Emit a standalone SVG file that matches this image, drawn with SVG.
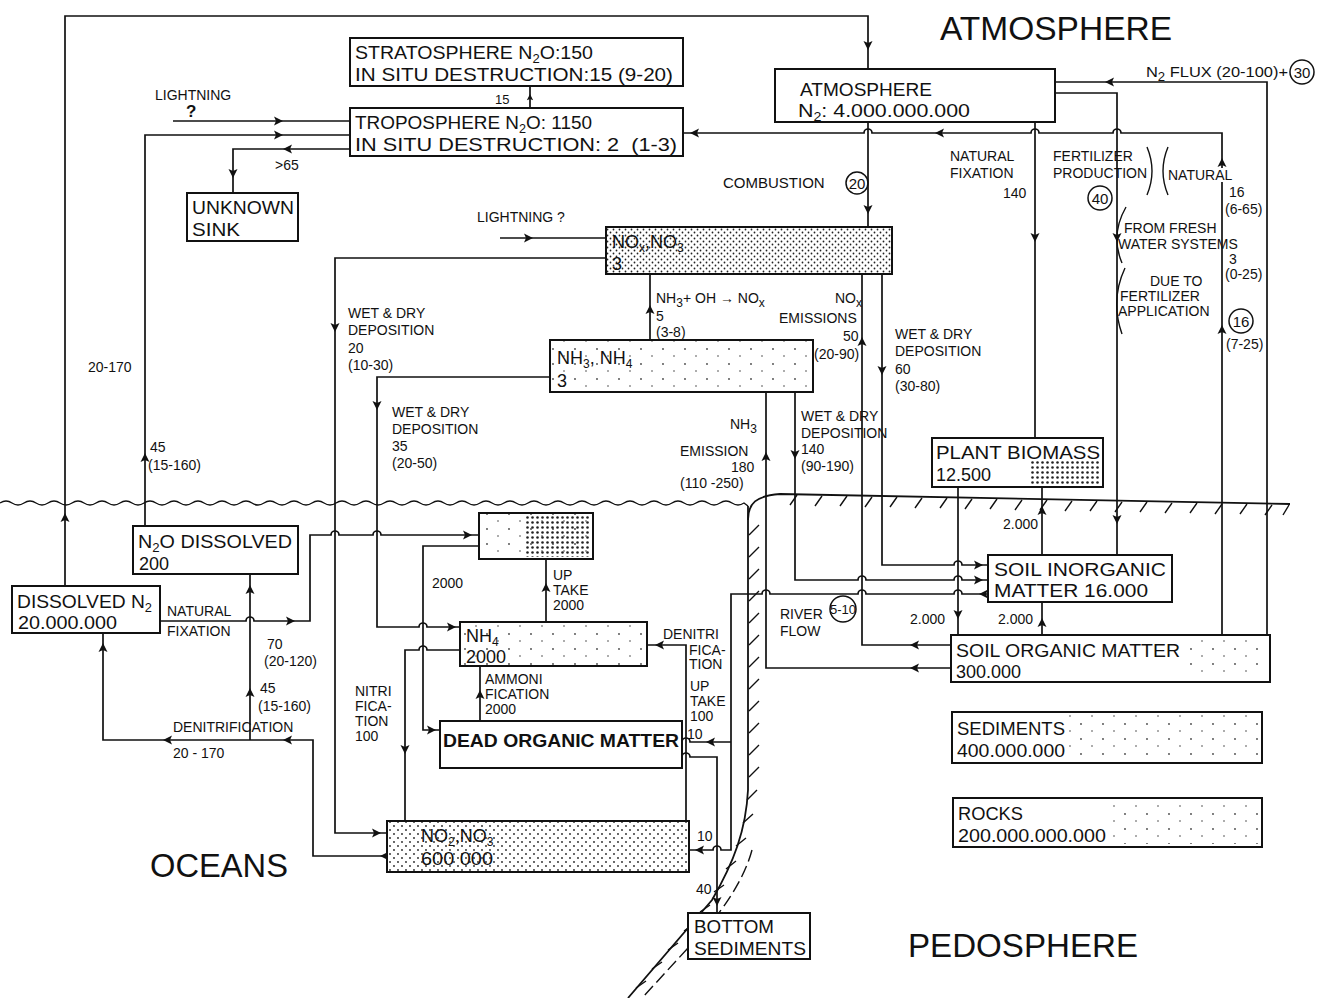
<svg xmlns="http://www.w3.org/2000/svg" xmlns:xlink="http://www.w3.org/1999/xlink" width="1329" height="998" viewBox="0 0 1329 998">
<style>
.box{fill:#fff;stroke:#111;stroke-width:2}
.c{fill:none;stroke:#111;stroke-width:1.7}
.ln{fill:none;stroke:#111;stroke-width:1.8}
.h{fill:none;stroke:#111;stroke-width:1.4}
.t{font-family:"Liberation Sans",Arial,sans-serif;fill:#111}
.bx{font-size:18px}
.lb{font-size:14px}
.ttl{font-size:34px}
.sub{font-size:12px}
.circ{fill:none;stroke:#111;stroke-width:1.5}
.ah{fill:#111}
</style>
<defs>
<pattern id="dDense" width="6" height="6" patternUnits="userSpaceOnUse"><circle cx="1.5" cy="1.5" r="0.9" fill="#222"/><circle cx="4.5" cy="4.5" r="0.9" fill="#222"/></pattern>
<pattern id="dMed" width="8" height="8" patternUnits="userSpaceOnUse"><circle cx="2" cy="2" r="0.9" fill="#222"/><circle cx="6" cy="6" r="0.9" fill="#222"/></pattern>
<pattern id="dHeavy" width="5" height="5" patternUnits="userSpaceOnUse"><circle cx="2.5" cy="2.5" r="1.3" fill="#222"/></pattern>
<pattern id="dSparse" width="22" height="15" patternUnits="userSpaceOnUse"><circle cx="3" cy="4" r="0.9" fill="#444"/><circle cx="14" cy="11" r="0.8" fill="#444"/></pattern>
<path id="ah" class="ah" d="M0,0 L-9,-4.5 L-7,0 L-9,4.5 Z"/>
</defs>
<rect width="1329" height="998" fill="#fff"/>

<!-- land / water -->
<g id="landscape">
<path class="h" d="M0,503 q6,-4 12,0 t12,0 t12,0 t12,0 t12,0 t12,0 t12,0 t12,0 t12,0 t12,0 t12,0 t12,0 t12,0 t12,0 t12,0 t12,0 t12,0 t12,0 t12,0 t12,0 t12,0 t12,0 t12,0 t12,0 t12,0 t12,0 t12,0 t12,0 t12,0 t12,0 t12,0 t12,0 t12,0 t12,0 t12,0 t12,0 t12,0 t12,0 t12,0 t12,0 t12,0 t12,0 t12,0 t12,0 t12,0 t12,0 t12,0 t12,0 t12,0 t12,0 t12,0 t12,0 t12,0 t12,0 t12,0 t12,0 t12,0 t12,0 t12,0 t12,0 t12,0 t12,0 L748,506"/>
<path class="ln" d="M748,520 C748,503 756,496 780,494 L1290,504"/>
<path class="ln" d="M748,506 L748,790 C746,830 734,862 712,900 L628,998"/>
<path class="h" stroke-dasharray="12 5" d="M752,850 C744,880 722,912 700,935 L642,998"/>
<path class="h" d="M790,505 l7,-10 M815,506 l7,-10 M840,506 l7,-10 M865,507 l7,-10 M890,507 l7,-10 M915,508 l7,-10 M940,508 l7,-10 M965,509 l7,-10 M990,509 l7,-10 M1015,510 l7,-10 M1040,510 l7,-10 M1065,511 l7,-10 M1090,511 l7,-10 M1115,512 l7,-10 M1140,512 l7,-10 M1165,513 l7,-10 M1190,513 l7,-10 M1215,514 l7,-10 M1240,514 l7,-10 M1265,515 l7,-10 M1283,515 l6,-10"/>
<path class="h" d="M749,535 l10,-10 M749,557 l10,-10 M749,579 l10,-10 M749,601 l10,-10 M749,623 l10,-10 M749,645 l10,-10 M749,667 l10,-10 M749,689 l10,-10 M749,711 l10,-10 M749,733 l10,-10 M749,755 l10,-10 M749,777 l10,-10 M747,800 l10,-10 M743,823 l10,-9 M736,846 l10,-8 M726,869 l10,-8 M714,892 l10,-7 M700,912 l10,-7 M684,931 l10,-7 M668,950 l10,-7 M652,969 l10,-7 M636,988 l10,-7"/>
</g>

<!-- connectors -->
<g id="connectors">
<path class="c" d="M65,586 L65,16 L868,16 L868,69"/>
<path class="c" d="M173,121 L350,121"/>
<path class="c" d="M145,526 L145,135 L350,135"/>
<path class="c" d="M350,149 L233,149 L233,193"/>
<path class="c" d="M530,108 L530,86"/>
<path class="c" d="M1222,635 L1222,133 L1121,133 A4,4 0 0 0 1113,133 L1039,133 A4,4 0 0 0 1031,133 L872,133 A4,4 0 0 0 864,133 L683,133"/>
<path class="c" d="M868,122 L868,227"/>
<path class="c" d="M1035,122 L1035,438"/>
<path class="c" d="M1055,93 L1117,93 L1117,555"/>
<path class="c" d="M1267,635 L1267,82 L1055,82"/>
<path class="c" d="M500,238 L606,238"/>
<path class="c" d="M606,258 L335,258 L335,833 L387,833"/>
<path class="c" d="M650,340 L650,274"/>
<path class="c" d="M951,645 L862,645 L862,274"/>
<path class="c" d="M882,274 L882,565 L954,565 A4,4 0 0 1 962,565 L988,565"/>
<path class="c" d="M550,377 L377,377 L377,627 L419,627 A4,4 0 0 1 427,627 L460,627"/>
<path class="c" d="M951,668 L766,668 L766,392"/>
<path class="c" d="M795,392 L795,580 L858,580 A4,4 0 0 1 866,580 L954,580 A4,4 0 0 1 962,580 L988,580"/>
<path class="c" d="M988,594 L962,594 A4,4 0 0 0 954,594 L866,594 A4,4 0 0 0 858,594 L770,594 A4,4 0 0 0 762,594 L731,594 L731,850 L721,850 A4,4 0 0 0 713,850 L689,850"/>
<path class="c" d="M731,742 L690,742 A4,4 0 0 0 682,742"/>
<path class="c" d="M682,757 A4,4 0 0 1 690,757 L717,757 L717,913"/>
<path class="c" d="M686,821 L686,645 L647,645"/>
<path class="c" d="M958,487 L958,635"/>
<path class="c" d="M1042,635 L1042,602"/>
<path class="c" d="M1042,555 L1042,487"/>
<path class="c" d="M160,621 L246,621 A4,4 0 0 1 254,621 L310,621 L310,535 L331,535 A4,4 0 0 1 339,535 L373,535 A4,4 0 0 1 381,535 L479,535"/>
<path class="c" d="M250,740 L250,574"/>
<path class="c" d="M387,856 L313,856 L313,740 L103,740 L103,633"/>
<path class="c" d="M479,546 L423,546 L423,730 L440,730"/>
<path class="c" d="M546,622 L546,559"/>
<path class="c" d="M480,721 L480,666"/>
<path class="c" d="M460,650 L427,650 A4,4 0 0 0 419,650 L405,650 L405,821"/>
<!-- arrowheads -->
<use href="#ah" transform="translate(65,513) rotate(-90)"/>
<use href="#ah" transform="translate(868,50) rotate(90)"/>
<use href="#ah" transform="translate(283,121)"/>
<use href="#ah" transform="translate(145,453) rotate(-90)"/>
<use href="#ah" transform="translate(283,135)"/>
<use href="#ah" transform="translate(283,149) rotate(180)"/>
<use href="#ah" transform="translate(233,178) rotate(90)"/>
<use href="#ah" transform="translate(530,94) rotate(-90) scale(0.7)"/>
<use href="#ah" transform="translate(690,133) rotate(180)"/>
<use href="#ah" transform="translate(935,133) rotate(180)"/>
<use href="#ah" transform="translate(1222,158) rotate(-90)"/>
<use href="#ah" transform="translate(1222,325) rotate(-90)"/>
<use href="#ah" transform="translate(868,214) rotate(90)"/>
<use href="#ah" transform="translate(1035,242) rotate(90)"/>
<use href="#ah" transform="translate(1117,242) rotate(90)"/>
<use href="#ah" transform="translate(1117,524) rotate(90)"/>
<use href="#ah" transform="translate(1105,82) rotate(180)"/>
<use href="#ah" transform="translate(533,238)"/>
<use href="#ah" transform="translate(335,332) rotate(90)"/>
<use href="#ah" transform="translate(381,833)"/>
<use href="#ah" transform="translate(650,305) rotate(-90)"/>
<use href="#ah" transform="translate(862,337) rotate(-90)"/>
<use href="#ah" transform="translate(910,645) rotate(180)"/>
<use href="#ah" transform="translate(882,375) rotate(90)"/>
<use href="#ah" transform="translate(983,565)"/>
<use href="#ah" transform="translate(377,410) rotate(90)"/>
<use href="#ah" transform="translate(456,627)"/>
<use href="#ah" transform="translate(766,452) rotate(-90)"/>
<use href="#ah" transform="translate(910,668) rotate(180)"/>
<use href="#ah" transform="translate(795,459) rotate(90)"/>
<use href="#ah" transform="translate(983,580)"/>
<use href="#ah" transform="translate(979,594) rotate(180)"/>
<use href="#ah" transform="translate(695,850) rotate(180)"/>
<use href="#ah" transform="translate(706,742) rotate(180)"/>
<use href="#ah" transform="translate(717,906) rotate(90)"/>
<use href="#ah" transform="translate(655,645) rotate(180)"/>
<use href="#ah" transform="translate(958,619) rotate(90)"/>
<use href="#ah" transform="translate(1042,618) rotate(-90)"/>
<use href="#ah" transform="translate(1042,506) rotate(-90)"/>
<use href="#ah" transform="translate(295,621)"/>
<use href="#ah" transform="translate(472,535)"/>
<use href="#ah" transform="translate(250,688) rotate(-90)"/>
<use href="#ah" transform="translate(250,585) rotate(-90)"/>
<use href="#ah" transform="translate(380,856) rotate(180)"/>
<use href="#ah" transform="translate(283,740) rotate(180)"/>
<use href="#ah" transform="translate(163,740) rotate(180)"/>
<use href="#ah" transform="translate(103,643) rotate(-90)"/>
<use href="#ah" transform="translate(436,730)"/>
<use href="#ah" transform="translate(546,583) rotate(-90)"/>
<use href="#ah" transform="translate(480,690) rotate(-90)"/>
<use href="#ah" transform="translate(405,754) rotate(90)"/>
<!-- brackets -->
<path class="h" d="M1147,147 Q1157,171 1147,195 M1168,147 Q1158,171 1168,195 M1126,207 Q1110,235 1122,263 M1125,268 Q1110,300 1122,334"/>
</g>

<!-- connector labels -->
<g id="labels" class="t lb">
<text x="155" y="100">LIGHTNING</text>
<text x="186" y="117" font-size="17" font-weight="bold">?</text>
<text x="150" y="452">45</text>
<text x="148" y="470">(15-160)</text>
<text x="88" y="372">20-170</text>
<text x="275" y="170">&gt;65</text>
<text x="495" y="104" font-size="13">15</text>
<text x="723" y="188" font-size="15">COMBUSTION</text>
<circle class="circ" cx="857" cy="183" r="11"/><text x="857" y="189" text-anchor="middle" font-size="15">20</text>
<text x="950" y="161">NATURAL</text>
<text x="950" y="178">FIXATION</text>
<text x="1003" y="198">140</text>
<text x="1053" y="161">FERTILIZER</text>
<text x="1053" y="178">PRODUCTION</text>
<rect x="1168" y="168" width="66" height="14" fill="#fff"/>
<text x="1168" y="180">NATURAL</text>
<circle class="circ" cx="1100" cy="198" r="12"/><text x="1100" y="204" text-anchor="middle" font-size="15">40</text>
<text x="1229" y="197">16</text>
<text x="1225" y="214">(6-65)</text>
<text x="1124" y="233">FROM FRESH</text>
<text x="1118" y="249">WATER SYSTEMS</text>
<text x="1229" y="264">3</text>
<text x="1225" y="279">(0-25)</text>
<text x="1150" y="286">DUE TO</text>
<text x="1120" y="301">FERTILIZER</text>
<text x="1118" y="316">APPLICATION</text>
<circle class="circ" cx="1241" cy="321" r="12"/><text x="1241" y="327" text-anchor="middle" font-size="15">16</text>
<text x="1226" y="349">(7-25)</text>
<text x="1146" y="77" font-size="15" textLength="142" lengthAdjust="spacingAndGlyphs">N<tspan class="sub" dy="4">2</tspan><tspan dy="-4"> FLUX (20-100)+</tspan></text>
<circle class="circ" cx="1302" cy="72" r="12"/><text x="1302" y="78" text-anchor="middle" font-size="15">30</text>
<text x="477" y="222">LIGHTNING  ?</text>
<text x="656" y="303">NH<tspan class="sub" dy="4">3</tspan><tspan dy="-4">+ OH → NO</tspan><tspan class="sub" dy="4">x</tspan></text>
<text x="656" y="321">5</text>
<text x="656" y="337">(3-8)</text>
<text x="835" y="303">NO<tspan class="sub" dy="4">x</tspan></text>
<text x="779" y="323">EMISSIONS</text>
<text x="843" y="341">50</text>
<text x="814" y="359">(20-90)</text>
<text x="895" y="339">WET &amp; DRY</text>
<text x="895" y="356">DEPOSITION</text>
<text x="895" y="374">60</text>
<text x="895" y="391">(30-80)</text>
<text x="348" y="318">WET &amp; DRY</text>
<text x="348" y="335">DEPOSITION</text>
<text x="348" y="353">20</text>
<text x="348" y="370">(10-30)</text>
<text x="392" y="417">WET &amp; DRY</text>
<text x="392" y="434">DEPOSITION</text>
<text x="392" y="451">35</text>
<text x="392" y="468">(20-50)</text>
<text x="730" y="429">NH<tspan class="sub" dy="4">3</tspan></text>
<text x="680" y="456">EMISSION</text>
<text x="731" y="472">180</text>
<text x="680" y="488">(110 -250)</text>
<text x="801" y="421">WET &amp; DRY</text>
<text x="801" y="438">DEPOSITION</text>
<text x="801" y="454">140</text>
<text x="801" y="471">(90-190)</text>
<text x="1003" y="529">2.000</text>
<text x="910" y="624">2.000</text>
<text x="998" y="624">2.000</text>
<text x="780" y="619">RIVER</text>
<text x="780" y="636">FLOW</text>
<circle class="circ" cx="843" cy="609" r="13"/><text x="843" y="614" text-anchor="middle" font-size="13">5-10</text>
<text x="167" y="616">NATURAL</text>
<text x="167" y="636">FIXATION</text>
<text x="267" y="649">70</text>
<text x="264" y="666">(20-120)</text>
<text x="260" y="693">45</text>
<text x="258" y="711">(15-160)</text>
<text x="173" y="732">DENITRIFICATION</text>
<text x="173" y="758">20 - 170</text>
<text x="432" y="588">2000</text>
<text x="553" y="580">UP</text>
<text x="553" y="595">TAKE</text>
<text x="553" y="610">2000</text>
<text x="355" y="696">NITRI</text>
<text x="355" y="711">FICA-</text>
<text x="355" y="726">TION</text>
<text x="355" y="741">100</text>
<text x="485" y="684">AMMONI</text>
<text x="485" y="699">FICATION</text>
<text x="485" y="714">2000</text>
<text x="663" y="639">DENITRI</text>
<text x="689" y="655">FICA-</text>
<text x="689" y="669">TION</text>
<text x="690" y="691">UP</text>
<text x="690" y="706">TAKE</text>
<text x="690" y="721">100</text>
<text x="687" y="739">10</text>
<text x="697" y="841">10</text>
<text x="696" y="894">40</text>
</g>

<!-- region titles -->
<g id="titles" class="t ttl">
<text x="940" y="40" textLength="232" lengthAdjust="spacingAndGlyphs">ATMOSPHERE</text>
<text x="150" y="877" textLength="138" lengthAdjust="spacingAndGlyphs">OCEANS</text>
<text x="908" y="957" textLength="230" lengthAdjust="spacingAndGlyphs">PEDOSPHERE</text>
</g>

<!-- nodes -->
<g id="stratosphere"><rect class="box" x="350" y="38" width="333" height="48"/>
<text class="t bx" x="355" y="59" textLength="238" lengthAdjust="spacingAndGlyphs">STRATOSPHERE N<tspan class="sub" dy="4">2</tspan><tspan dy="-4">O:150</tspan></text>
<text class="t bx" x="355" y="81" textLength="318" lengthAdjust="spacingAndGlyphs">IN SITU DESTRUCTION:15 (9-20)</text></g>

<g id="troposphere"><rect class="box" x="350" y="108" width="333" height="48"/>
<text class="t bx" x="355" y="129" textLength="237" lengthAdjust="spacingAndGlyphs">TROPOSPHERE N<tspan class="sub" dy="4">2</tspan><tspan dy="-4">O: 1150</tspan></text>
<text class="t bx" x="355" y="151" textLength="322" lengthAdjust="spacingAndGlyphs" xml:space="preserve">IN SITU DESTRUCTION: 2  (1-3)</text></g>

<g id="unknown-sink"><rect class="box" x="187" y="193" width="111" height="48"/>
<text class="t bx" x="192" y="214" textLength="102" lengthAdjust="spacingAndGlyphs">UNKNOWN</text>
<text class="t bx" x="192" y="236" textLength="48" lengthAdjust="spacingAndGlyphs">SINK</text></g>

<g id="atmosphere"><rect class="box" x="775" y="69" width="280" height="53"/>
<text class="t bx" x="800" y="96" textLength="132" lengthAdjust="spacingAndGlyphs">ATMOSPHERE</text>
<text class="t bx" x="798" y="117" textLength="172" lengthAdjust="spacingAndGlyphs">N<tspan class="sub" dy="4">2</tspan><tspan dy="-4">: 4.000.000.000</tspan></text></g>

<g id="nox-no3"><rect class="box" x="606" y="227" width="286" height="47"/>
<rect x="607" y="228" width="284" height="45" fill="url(#dDense)"/>
<text class="t bx" x="612" y="248">NO<tspan class="sub" dy="4">x</tspan><tspan dy="-4">,NO</tspan><tspan class="sub" dy="4">3</tspan></text>
<text class="t bx" x="612" y="270">3</text></g>

<g id="nh3-nh4"><rect class="box" x="550" y="340" width="263" height="52"/>
<rect x="551" y="341" width="261" height="50" fill="url(#dSparse)"/>
<text class="t bx" x="557" y="364">NH<tspan class="sub" dy="4">3</tspan><tspan dy="-4">, NH</tspan><tspan class="sub" dy="4">4</tspan></text>
<text class="t bx" x="557" y="387">3</text></g>

<g id="plant-biomass"><rect class="box" x="932" y="438" width="171" height="49"/>
<rect x="1030" y="460" width="70" height="24" fill="url(#dHeavy)"/>
<text class="t bx" x="936" y="459" textLength="164" lengthAdjust="spacingAndGlyphs">PLANT BIOMASS</text>
<text class="t bx" x="936" y="481">12.500</text></g>

<g id="n2o-dissolved"><rect class="box" x="133" y="526" width="165" height="48"/>
<text class="t bx" x="138" y="548" textLength="154" lengthAdjust="spacingAndGlyphs">N<tspan class="sub" dy="4">2</tspan><tspan dy="-4">O DISSOLVED</tspan></text>
<text class="t bx" x="139" y="570">200</text></g>

<g id="dissolved-n2"><rect class="box" x="12" y="586" width="148" height="47"/>
<text class="t bx" x="17" y="608" textLength="135" lengthAdjust="spacingAndGlyphs">DISSOLVED N<tspan class="sub" dy="4">2</tspan></text>
<text class="t bx" x="18" y="629" textLength="99" lengthAdjust="spacingAndGlyphs">20.000.000</text></g>

<g id="ocean-biomass"><rect class="box" x="479" y="513" width="114" height="46"/>
<rect x="480" y="514" width="112" height="44" fill="url(#dSparse)"/>
<rect x="525" y="515" width="66" height="42" fill="url(#dHeavy)"/></g>

<g id="nh4"><rect class="box" x="460" y="622" width="187" height="44"/>
<rect x="461" y="623" width="185" height="42" fill="url(#dSparse)"/>
<text class="t bx" x="466" y="642">NH<tspan class="sub" dy="4">4</tspan></text>
<text class="t bx" x="466" y="663">2000</text></g>

<g id="dead-organic-matter"><rect class="box" x="440" y="721" width="242" height="47"/>
<text class="t bx" x="443" y="747" font-weight="bold" font-size="20" textLength="236" lengthAdjust="spacingAndGlyphs">DEAD ORGANIC MATTER</text></g>

<g id="no2-no3"><rect class="box" x="387" y="821" width="302" height="51"/>
<rect x="388" y="822" width="300" height="49" fill="url(#dMed)"/>
<text class="t bx" x="421" y="842">NO<tspan class="sub" dy="4">2</tspan><tspan dy="-4">,NO</tspan><tspan class="sub" dy="4">3</tspan></text>
<text class="t bx" x="421" y="865" textLength="72" lengthAdjust="spacingAndGlyphs" xml:space="preserve">600 000</text></g>

<g id="bottom-sediments"><rect class="box" x="688" y="913" width="122" height="46"/>
<text class="t bx" x="694" y="933" textLength="80" lengthAdjust="spacingAndGlyphs">BOTTOM</text>
<text class="t bx" x="694" y="955" textLength="112" lengthAdjust="spacingAndGlyphs">SEDIMENTS</text></g>

<g id="soil-inorganic-matter"><rect class="box" x="988" y="555" width="184" height="47"/>
<text class="t bx" x="994" y="576" textLength="172" lengthAdjust="spacingAndGlyphs">SOIL INORGANIC</text>
<text class="t bx" x="994" y="597" textLength="154" lengthAdjust="spacingAndGlyphs">MATTER 16.000</text></g>

<g id="soil-organic-matter"><rect class="box" x="951" y="635" width="319" height="47"/>
<rect x="1190" y="640" width="75" height="38" fill="url(#dSparse)"/>
<text class="t bx" x="956" y="657" textLength="224" lengthAdjust="spacingAndGlyphs">SOIL ORGANIC MATTER</text>
<text class="t bx" x="956" y="678" fill="#888">300.000</text></g>

<g id="sediments"><rect class="box" x="952" y="712" width="310" height="51"/>
<rect x="1060" y="715" width="198" height="45" fill="url(#dSparse)"/>
<text class="t bx" x="957" y="735" textLength="108" lengthAdjust="spacingAndGlyphs">SEDIMENTS</text>
<text class="t bx" x="957" y="757" textLength="108" lengthAdjust="spacingAndGlyphs">400.000.000</text></g>

<g id="rocks"><rect class="box" x="953" y="798" width="309" height="49"/>
<rect x="1110" y="801" width="148" height="43" fill="url(#dSparse)"/>
<text class="t bx" x="958" y="820" textLength="65" lengthAdjust="spacingAndGlyphs">ROCKS</text>
<text class="t bx" x="958" y="842" textLength="148" lengthAdjust="spacingAndGlyphs">200.000.000.000</text></g>
</svg>
